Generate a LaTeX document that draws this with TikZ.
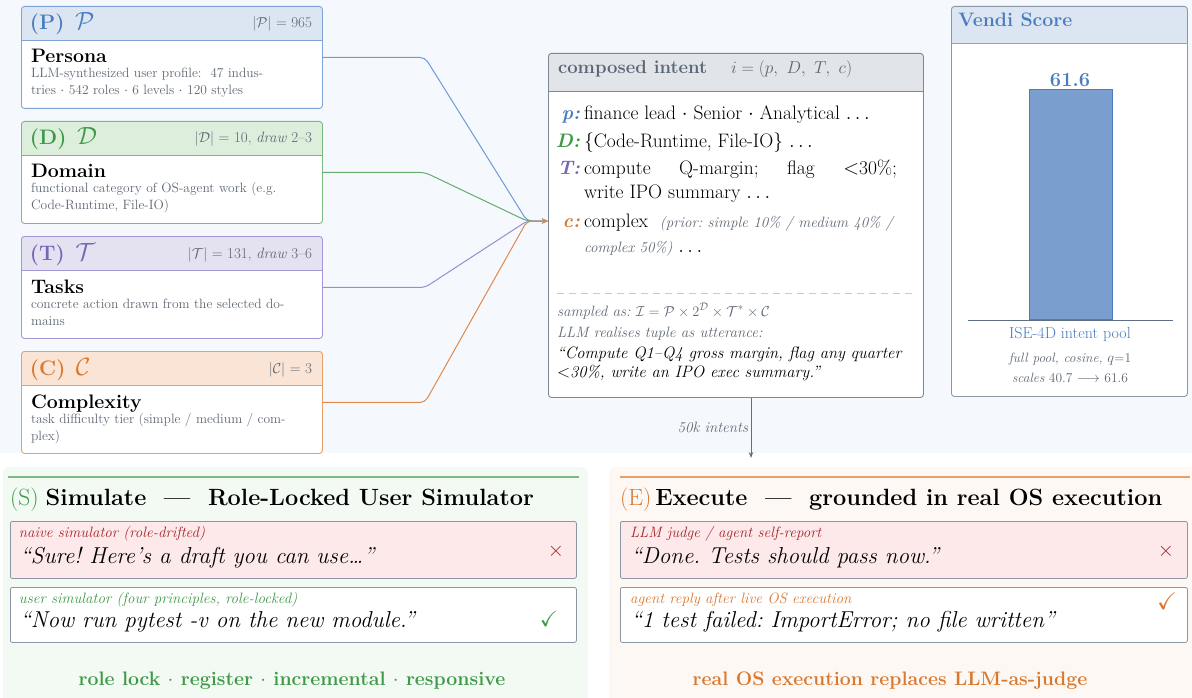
\documentclass[tikz,border=0pt]{standalone}
\usepackage{amsmath,amssymb}
\usepackage{fontspec}
\usetikzlibrary{arrows.meta,calc}
\frenchspacing
\definecolor{topbg}{HTML}{F5F9FE}
\definecolor{Pc}{HTML}{4A7CC0}\definecolor{Pb}{HTML}{7FA5D8}\definecolor{Ph}{HTML}{DCE6F2}\definecolor{Pl}{HTML}{6E9AD6}
\definecolor{Dc}{HTML}{3D9A47}\definecolor{Db}{HTML}{7DBA80}\definecolor{Dh}{HTML}{DDEEDD}\definecolor{Dl}{HTML}{66AD6A}
\definecolor{Tc}{HTML}{7A66B8}\definecolor{Tb}{HTML}{A597D6}\definecolor{Th}{HTML}{E4E1F0}\definecolor{Tl}{HTML}{9A8CD0}
\definecolor{Cc}{HTML}{D9782F}\definecolor{Cb}{HTML}{E8A06A}\definecolor{Ch}{HTML}{F9E4D6}\definecolor{Cl}{HTML}{E0894A}
\definecolor{desc}{HTML}{5F6875}
\definecolor{hdrgray}{HTML}{5A6676}
\definecolor{ibord}{HTML}{7C8797}
\definecolor{ihdr}{HTML}{E1E4E8}
\definecolor{gpanel}{HTML}{F3FAF3}
\definecolor{opanel}{HTML}{FEF8F4}
\definecolor{pinkf}{HTML}{FDE9E9}
\definecolor{dred}{HTML}{A3232B}
\definecolor{bbord}{HTML}{8C97A6}
\definecolor{barf}{HTML}{7A9ECE}
\definecolor{barb}{HTML}{4C7BBE}
\definecolor{axisc}{HTML}{5E6E85}
\definecolor{sepc}{HTML}{C5CAD1}
\newcommand\fsz[1]{\fontsize{#1}{#1}\selectfont}
\tikzset{
  txt/.style={inner sep=0pt, outer sep=0pt},
  bw/.style={txt, anchor=base west},
  be/.style={txt, anchor=base east},
  bc/.style={txt, anchor=base},
  frame/.style={rounded corners=3pt, line width=0.9pt, inner sep=0pt, anchor=north west},
  conn/.style={line width=1pt, rounded corners=5pt, -{Stealth[length=6pt,width=5pt]}},
  hdrlab/.style={bw, font=\bfseries\fsz{21}},
  cardlab/.style={be, font=\fsz{15}, text=desc},
  cardtitle/.style={bw, font=\bfseries\fsz{19.5}, text=black},
  carddesc/.style={bw, font=\fsz{13.5}, text=desc},
  quote/.style={bw, font=\itshape\fsz{23}, text=black},
  qlab/.style={bw, font=\itshape\fsz{15}},
  qbox/.style={draw=bbord, line width=0.8pt, rounded corners=2pt, minimum width=566pt, inner sep=0pt, anchor=north west},
  varlab/.style={be, font=\bfseries\itshape\fsz{19.5}},
  body/.style={bw, font=\fsz{19.5}},
}
\begin{document}
\begin{tikzpicture}[x=1pt,y=-1pt]
\useasboundingbox (0,0) rectangle (1192,698);
\fill[topbg] (0,0) rectangle (1192,453);

% ---------- left cards ----------
% P
\begin{scope}
\clip[rounded corners=3pt] (21,6) rectangle (322,108);
\fill[white] (21,6) rectangle (322,108);
\fill[Ph] (21,6) rectangle (322,40);
\end{scope}
\draw[Pb, line width=0.9pt] (21,40) -- (322,40);
\node[frame, draw=Pb, minimum width=301pt, minimum height=102pt] (P) at (21,6) {};
\node[hdrlab, text=Pc] (Ptag) at (30,30) {(P)\,\,\,{\fsz{23}$\mathcal{P}$}};
\node[cardlab] (Pn) at (312,28) {$|\mathcal{P}|$ = 965};
\node[cardtitle] (Pt) at (31,63) {Persona};
\node[carddesc] (Pd1) at (31,78) {LLM-synthesized user profile:\ \ 47 indus-};
\node[carddesc] (Pd2) at (31,95) {tries $\cdot$ 542 roles $\cdot$ 6 levels $\cdot$ 120 styles};
% D
\begin{scope}
\clip[rounded corners=3pt] (21,121) rectangle (322,223);
\fill[white] (21,121) rectangle (322,223);
\fill[Dh] (21,121) rectangle (322,155);
\end{scope}
\draw[Db, line width=0.9pt] (21,155) -- (322,155);
\node[frame, draw=Db, minimum width=301pt, minimum height=102pt] (D) at (21,121) {};
\node[hdrlab, text=Dc] (Dtag) at (30,145) {(D)\,\,\,{\fsz{23}$\mathcal{D}$}};
\node[cardlab] (Dn) at (312,143) {$|\mathcal{D}|$ = 10, \textit{draw} 2--3};
\node[cardtitle] (Dt) at (31,178) {Domain};
\node[carddesc] (Dd1) at (31,193) {functional category of OS-agent work (e.g.};
\node[carddesc] (Dd2) at (31,210) {Code-Runtime, File-IO)};
% T
\begin{scope}
\clip[rounded corners=3pt] (21,236) rectangle (322,338);
\fill[white] (21,236) rectangle (322,338);
\fill[Th] (21,236) rectangle (322,270);
\end{scope}
\draw[Tb, line width=0.9pt] (21,270) -- (322,270);
\node[frame, draw=Tb, minimum width=301pt, minimum height=102pt] (T) at (21,236) {};
\node[hdrlab, text=Tc] (Ttag) at (30,260) {(T)\,\,\,{\fsz{23}$\mathcal{T}$}};
\node[cardlab] (Tn) at (312,258) {$|\mathcal{T}|$ = 131, \textit{draw} 3--6};
\node[cardtitle] (Tt) at (31,293) {Tasks};
\node[carddesc] (Td1) at (31,308) {concrete action drawn from the selected do-};
\node[carddesc] (Td2) at (31,325) {mains};
% C
\begin{scope}
\clip[rounded corners=3pt] (21,351) rectangle (322,453);
\fill[white] (21,351) rectangle (322,453);
\fill[Ch] (21,351) rectangle (322,385);
\end{scope}
\draw[Cb, line width=0.9pt] (21,385) -- (322,385);
\node[frame, draw=Cb, minimum width=301pt, minimum height=102pt] (C) at (21,351) {};
\node[hdrlab, text=Cc] (Ctag) at (30,375) {(C)\,\,\,{\fsz{23}$\mathcal{C}$}};
\node[cardlab] (Cn) at (312,373) {$|\mathcal{C}|$ = 3};
\node[cardtitle] (Ct) at (31,408) {Complexity};
\node[carddesc] (Cd1) at (31,423) {task difficulty tier (simple / medium / com-};
\node[carddesc] (Cd2) at (31,440) {plex)};

% ---------- composed intent ----------
\begin{scope}
\clip[rounded corners=3pt] (548,53) rectangle (923,397);
\fill[white] (548,53) rectangle (923,397);
\fill[ihdr] (548,53) rectangle (923,91);
\end{scope}
\draw[ibord, line width=0.9pt] (548,91) -- (923,91);
\node[frame, draw=ibord, minimum width=375pt, minimum height=344pt] (I) at (548,53) {};
\node[bw, font=\bfseries\fsz{18.5}, text=hdrgray] (Ititle) at (558,74) {composed intent};
\node[bw, font=\fsz{18.5}, text=hdrgray] (Imath) at (731,74) {$i = (p,\ D,\ T,\ c)$};

\node[varlab, text=Pc] (lp) at (580,120) {p:};
\node[body] (tp) at (584,120) {finance lead $\cdot$ Senior $\cdot$ Analytical $\ldots$};
\node[varlab, text=Dc] (lD) at (580,148) {D:};
\node[body] (tD) at (584,148) {\{Code-Runtime, File-IO\} $\ldots$};
\node[varlab, text=Tc] (lT) at (580,175) {T:};
\node[body] (tT) at (584,175) {\makebox[313pt][s]{compute Q-margin; flag $<$30\%;}};
\node[body] (tT2) at (584,199) {write IPO summary $\ldots$};
\node[varlab, text=Cc] (lc) at (580,227) {c:};
\node[body] (tc) at (584,227) {complex\ \ {\itshape\color{desc}\fsz{15}(prior: simple 10\% / medium 40\% /}};
\node[body] (tc2) at (584,252) {{\itshape\color{desc}\fsz{15}complex 50\%)} $\ldots$};
\draw[sepc, dash pattern=on 7pt off 5pt, line width=0.8pt] (557,293) -- (912,293);
\node[bw, font=\itshape\fsz{15}, text=desc] (samp) at (557,316) {sampled as: $\mathcal{I} = \mathcal{P} \times 2^{\mathcal{D}} \times \mathcal{T}^{*} \times \mathcal{C}$};
\node[bw, font=\itshape\fsz{15}, text=desc] (llm) at (557,337) {LLM realises tuple as utterance:};
\node[bw, font=\itshape\fsz{16.5}, text=black] (q1) at (557,358) {``Compute Q1--Q4 gross margin, flag any quarter};
\node[bw, font=\itshape\fsz{16.5}, text=black] (q2) at (557,377) {$<$30\%, write an IPO exec summary.''};

% connectors
\coordinate (bx) at (425,0);
\coordinate (m) at (527,221);
\draw[conn, Pl] (P.east) -- (P.east -| bx) -- (m) -- (I.west |- m);
\draw[conn, Dl] (D.east) -- (D.east -| bx) -- (m) -- (I.west |- m);
\draw[conn, Tl] (T.east) -- (T.east -| bx) -- (m) -- (I.west |- m);
\draw[conn, Cl] (C.east) -- (C.east -| bx) -- (m) -- (I.west |- m);

% down arrow
\coordinate (ar) at (751,458);
\draw[axisc, line width=1pt, -{Stealth[length=6pt,width=4.5pt]}] (I.south -| ar) -- (ar);
\node[be, font=\itshape\fsz{15}, text=desc] (k50) at (748,432) {50k intents};

% ---------- Vendi ----------
\begin{scope}
\clip[rounded corners=3pt] (951,6) rectangle (1187,396);
\fill[white] (951,6) rectangle (1187,396);
\fill[Ph] (951,6) rectangle (1187,43);
\end{scope}
\draw[Pb, line width=0.9pt] (951,43) -- (1187,43);
\node[frame, draw=bbord, minimum width=236pt, minimum height=390pt] (V) at (951,6) {};
\node[bw, font=\bfseries\fsz{19.5}, text=Pc] (Vt) at (958,27) {Vendi Score};
\node[draw=barb, fill=barf, line width=0.8pt, minimum width=83pt, minimum height=230pt, inner sep=0pt, anchor=south west] (bar) at (1029,320) {};
\node[bc, font=\bfseries\fsz{20}, text=Pc] (bv) at (1070,87) {61.6};
\coordinate (ax1) at (968,320);
\coordinate (ax2) at (1173,320);
\draw[axisc, line width=1pt] (ax1) -- (ax2);
\node[bc, font=\fsz{16}, text=Pc] (vl) at (1070,338) {ISE-4D intent pool};
\node[bc, font=\fsz{13.5}, text=desc] (vs1) at (1070,362) {\textit{full pool, cosine, $q$}=1};
\node[bc, font=\fsz{13.5}, text=desc] (vs2) at (1070,382) {\textit{scales} 40.7 $\longrightarrow$ 61.6};

% ---------- bottom panels ----------
\fill[gpanel, rounded corners=6pt] (3,467) rectangle (588,712);
\fill[opanel, rounded corners=6pt] (609,467) rectangle (1205,712);
\draw[Db, line width=1.4pt] (8,477) -- (579,477);
\draw[Cb, line width=1.4pt] (620,477) -- (1190,477);

% S
\node[bw, font=\fsz{23.5}] (Sh) at (10,505) {{\color{Dc}(S)}\ \textbf{Simulate\ \ ---\ \ Role-Locked User Simulator}};
\node[qbox, fill=pinkf, minimum height=57pt] (S1) at (10,521) {};
\node[qlab, text=dred] (S1l) at (19,537) {naive simulator (role-drifted)};
\node[quote] (S1q) at (20,563) {``Sure! Here's a draft you can use\dots''};
\node[txt, font=\fsz{20}, text=dred] (S1x) at (556,551) {$\times$};
\node[qbox, fill=white, minimum height=55pt] (S2) at (10,587) {};
\node[qlab, text=Dc] (S2l) at (19,603) {user simulator (four principles, role-locked)};
\node[quote] (S2q) at (20,627) {``Now run pytest -v on the new module.''};
\node[txt, font=\fsz{22}, text=Dc] (S2c) at (549,619) {$\checkmark$};
\node[bc, font=\bfseries\fsz{19.5}, text=Dc] (Sf) at (292,685) {role lock $\cdot$ register $\cdot$ incremental $\cdot$ responsive};

% E
\node[bw, font=\fsz{23.5}] (Eh) at (620,505) {{\color{Cc}(E)}\,\textbf{Execute\ \ ---\ \ grounded in real OS execution}};
\node[qbox, fill=pinkf, minimum height=57pt, minimum width=567pt] (E1) at (620,521) {};
\node[qlab, text=dred] (E1l) at (630,537) {LLM judge / agent self-report};
\node[quote] (E1q) at (631,563) {``Done. Tests should pass now.''};
\node[txt, font=\fsz{20}, text=dred] (E1x) at (1166,551) {$\times$};
\node[qbox, fill=white, minimum height=55pt, minimum width=567pt] (E2) at (620,587) {};
\node[qlab, text=Cc] (E2l) at (630,603) {agent reply after live OS execution};
\node[quote] (E2q) at (631,627) {``1 test failed: ImportError; no file written''};
\node[txt, font=\fsz{24}, text=Cc] (E2c) at (1167,601) {$\checkmark$};
\node[bc, font=\bfseries\fsz{19.5}, text=Cc] (Ef) at (890,685) {real OS execution replaces LLM-as-judge};
\end{tikzpicture}
\end{document}
